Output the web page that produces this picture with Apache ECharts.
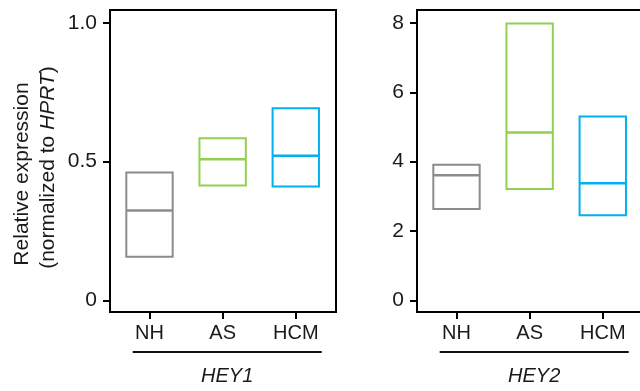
<!DOCTYPE html>
<html>
<head>
<meta charset="utf-8">
<script src="https://cdn.jsdelivr.net/npm/echarts@6/dist/echarts.min.js"></script>
<style>
html,body{margin:0;padding:0;background:#fff;}
#c{width:640px;height:391px;}
</style>
</head>
<body>
<div id="c"></div>
<script>
// ---- data ----
var categories = ['NH', 'AS', 'HCM'];
var genes = ['HEY1', 'HEY2'];
var hey1Low = [0.158, 0.414, 0.411];
var hey1Median = [0.324, 0.509, 0.521];
var hey1High = [0.461, 0.584, 0.692];
var hey2Low = [2.64, 3.21, 2.46];
var hey2Median = [3.61, 4.84, 3.38];
var hey2High = [3.91, 7.98, 5.30];
var hey1Ticks = [0, 0.5, 1];
var hey1TickLabels = ['0', '0.5', '1.0'];
var hey2Ticks = [0, 2, 4, 6, 8];
var hey2TickLabels = ['0', '2', '4', '6', '8'];
var yTitleLine1 = 'Relative expression';
var yTitleLine2Pre = '(normalized to ';
var yTitleLine2Ital = 'HPRT';
var yTitleLine2Post = ')';
var boxColors = ['#8c8c8c', '#92d050', '#00b0f0'];

var FONT = '"Liberation Sans", Arial, Helvetica, sans-serif';
var TXT = '#1a1a1a';
var HALF = 0.317;

function buildData(low, med, high) {
  return categories.map(function (c, i) { return [i + 1, low[i], med[i], high[i]]; });
}

function renderBox(params, api) {
  var x = api.value(0);
  var lo = api.coord([x - HALF, api.value(1)]);
  var hi = api.coord([x + HALF, api.value(3)]);
  var md = api.coord([x, api.value(2)]);
  var col = boxColors[params.dataIndex];
  return {
    type: 'group',
    children: [
      { type: 'rect', shape: { x: lo[0], y: hi[1], width: hi[0] - lo[0], height: lo[1] - hi[1] },
        style: { fill: 'none', stroke: col, lineWidth: 2 } },
      { type: 'line', shape: { x1: lo[0], y1: md[1], x2: hi[0], y2: md[1] },
        style: { stroke: col, lineWidth: 2.5 } }
    ]
  };
}

function xAxisFor(idx) {
  return {
    type: 'value', gridIndex: idx, min: 0.46, max: 3.55,
    splitLine: { show: false },
    axisLine: { show: true, onZero: false, lineStyle: { color: '#000', width: 2 } },
    axisTick: { show: true, customValues: [1, 2, 3], length: 7, lineStyle: { color: '#000', width: 2 } },
    axisLabel: { show: true, customValues: [1, 2, 3], margin: 11, color: TXT, fontSize: 20, fontFamily: FONT,
      formatter: function (v) { return categories[Math.round(v) - 1]; } }
  };
}

function yAxisFor(idx, min, max, ticks, labels) {
  return {
    type: 'value', gridIndex: idx, min: min, max: max,
    splitLine: { show: false },
    axisLine: { show: true, onZero: false, lineStyle: { color: '#000', width: 2 } },
    axisTick: { show: true, customValues: ticks, length: 7, lineStyle: { color: '#000', width: 2 } },
    axisLabel: { show: true, customValues: ticks, margin: 13, color: TXT, fontSize: 21, fontFamily: FONT,
      formatter: function (v) {
        for (var i = 0; i < ticks.length; i++) { if (Math.abs(ticks[i] - v) < 1e-9) return labels[i]; }
        return '';
      } }
  };
}

var chart = echarts.init(document.getElementById('c'), null, { renderer: 'canvas' });
var option = {
  animation: false,
  backgroundColor: '#fff',
  grid: [
    { left: 110, width: 226, top: 10, height: 302, show: true, borderColor: '#000', borderWidth: 2, outerBoundsMode: 'none', containLabel: false },
    { left: 417, width: 226, top: 10, height: 302, show: true, borderColor: '#000', borderWidth: 2, outerBoundsMode: 'none', containLabel: false }
  ],
  xAxis: [xAxisFor(0), xAxisFor(1)],
  yAxis: [
    yAxisFor(0, -0.041, 1.046, hey1Ticks, hey1TickLabels),
    yAxisFor(1, -0.33, 8.37, hey2Ticks, hey2TickLabels)
  ],
  series: [
    { type: 'custom', xAxisIndex: 0, yAxisIndex: 0, renderItem: renderBox, data: buildData(hey1Low, hey1Median, hey1High), clip: false },
    { type: 'custom', xAxisIndex: 1, yAxisIndex: 1, renderItem: renderBox, data: buildData(hey2Low, hey2Median, hey2High), clip: false }
  ]
};
chart.setOption(option);

// gene group brackets below the category labels, and the y-axis title
var graphics = [];
genes.forEach(function (g, gi) {
  var a = chart.convertToPixel({ gridIndex: gi }, [0.77, 0]);
  var b = chart.convertToPixel({ gridIndex: gi }, [3.355, 0]);
  var lineY = 352;
  graphics.push({ type: 'line', shape: { x1: a[0], y1: lineY, x2: b[0], y2: lineY }, style: { stroke: '#111', lineWidth: 2 } });
  graphics.push({ type: 'text', x: (a[0] + b[0]) / 2, y: 376,
    style: { text: g, fill: TXT, font: 'italic 20px ' + FONT, align: 'center', verticalAlign: 'middle' } });
});
graphics.push({ type: 'text', x: 22, y: 174, rotation: Math.PI / 2,
  style: { text: yTitleLine1, fill: TXT, font: '21px ' + FONT, align: 'center', verticalAlign: 'middle' } });
graphics.push({ type: 'text', x: 48, y: 167.5, rotation: Math.PI / 2,
  style: { text: yTitleLine2Pre + '{i|' + yTitleLine2Ital + '}' + yTitleLine2Post, fill: TXT, font: '21px ' + FONT,
    align: 'center', verticalAlign: 'middle',
    rich: { i: { fontStyle: 'italic', fontSize: 21, fontFamily: FONT, fill: TXT } } } });
chart.setOption({ graphic: graphics });
</script>
</body>
</html>
